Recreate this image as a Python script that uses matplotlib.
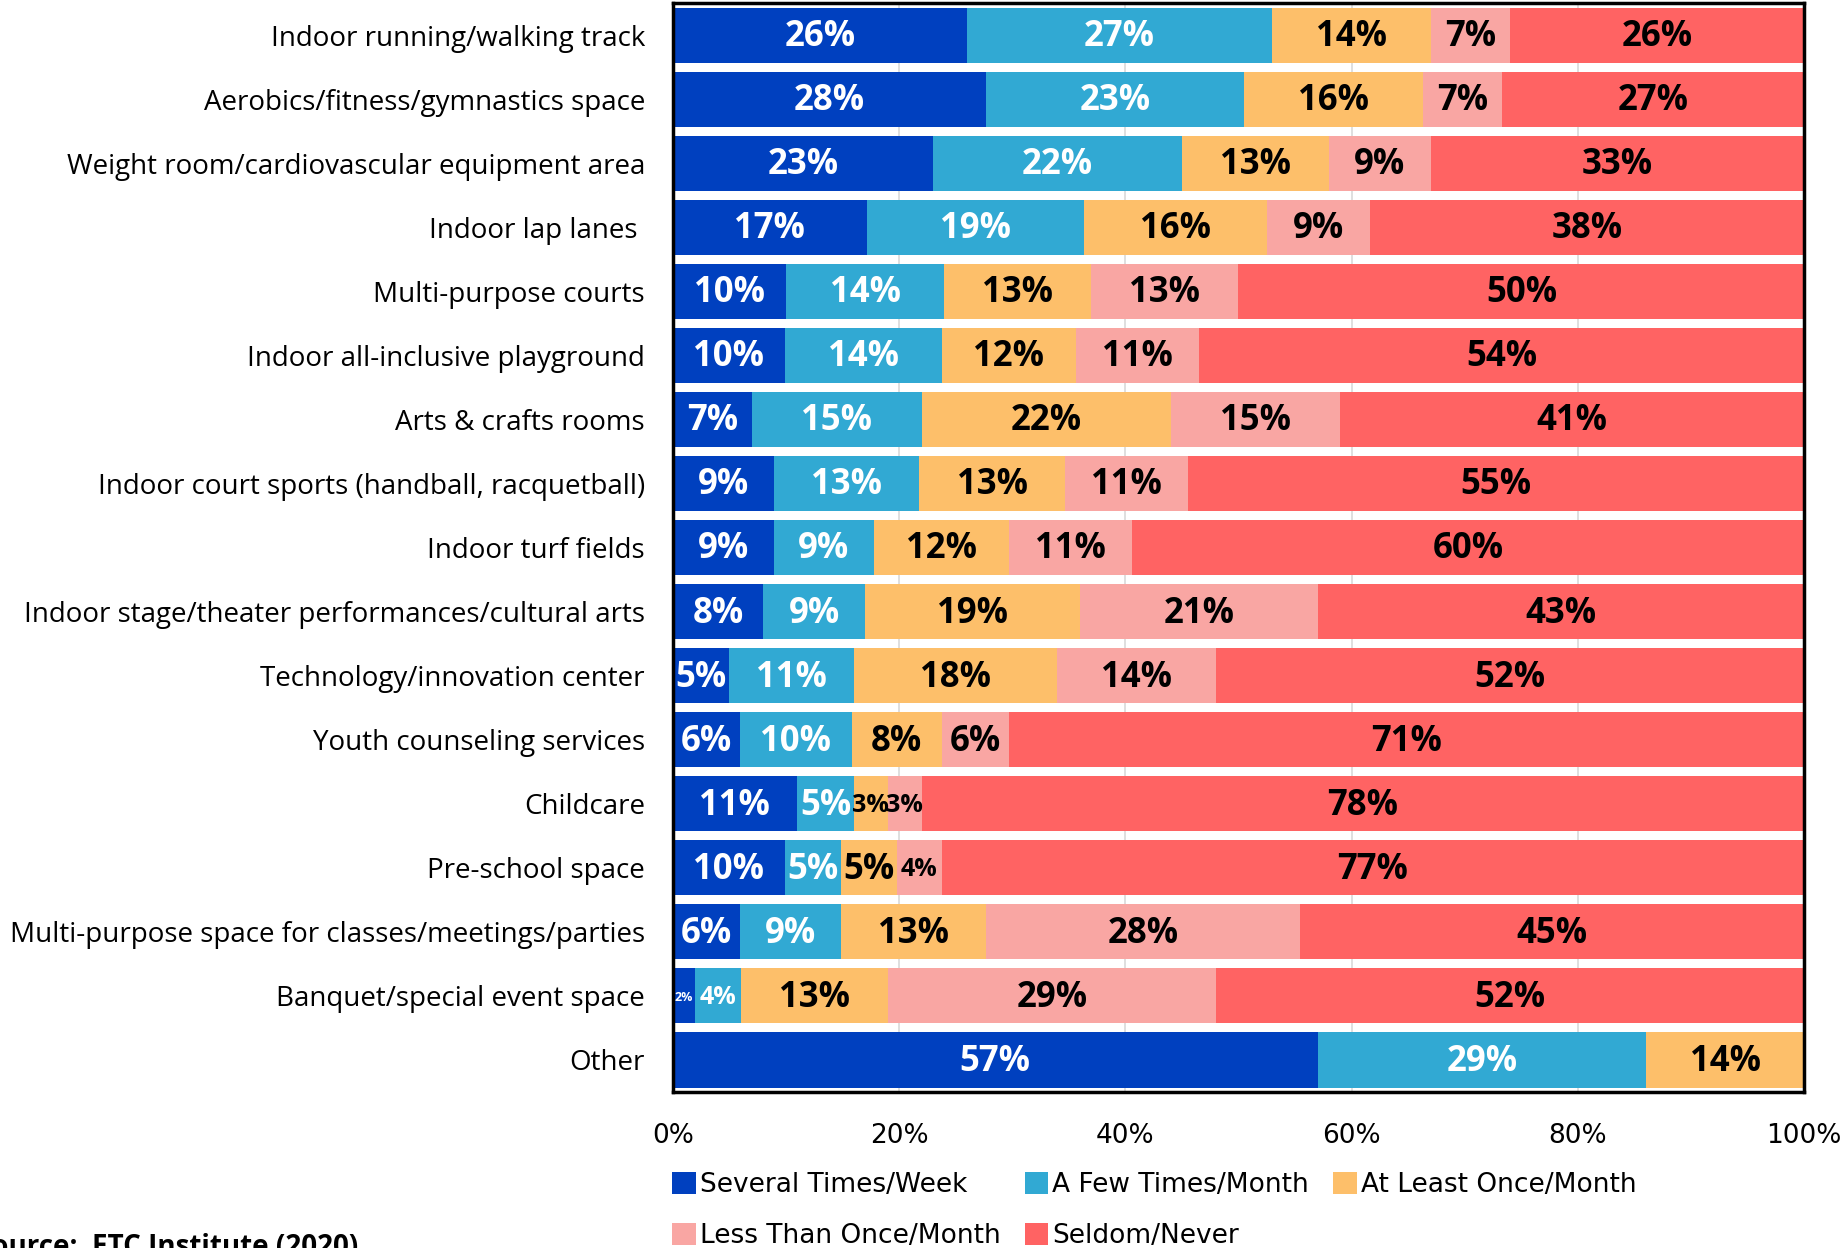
import matplotlib.pyplot as plt
import numpy as np

# data (top to bottom)
facilities = ['Indoor running/walking track', 'Aerobics/fitness/gymnastics space',
              'Weight room/cardiovascular equipment area', 'Indoor lap lanes ',
              'Multi-purpose courts', 'Indoor all-inclusive playground', 'Arts & crafts rooms',
              'Indoor court sports (handball, racquetball)', 'Indoor turf fields',
              'Indoor stage/theater performances/cultural arts', 'Technology/innovation center',
              'Youth counseling services', 'Childcare', 'Pre-school space',
              'Multi-purpose space for classes/meetings/parties', 'Banquet/special event space',
              'Other']
several = [26, 28, 23, 17, 10, 10, 7, 9, 9, 8, 5, 6, 11, 10, 6, 2, 57]
few = [27, 23, 22, 19, 14, 14, 15, 13, 9, 9, 11, 10, 5, 5, 9, 4, 29]
once = [14, 16, 13, 16, 13, 12, 22, 13, 12, 19, 18, 8, 3, 5, 13, 13, 14]
less = [7, 7, 9, 9, 13, 11, 15, 11, 11, 21, 14, 6, 3, 4, 28, 29, 0]
seldom = [26, 27, 33, 38, 50, 54, 41, 55, 60, 43, 52, 71, 78, 77, 45, 52, 0]

series_names = ['Several Times/Week', 'A Few Times/Month', 'At Least Once/Month',
                'Less Than Once/Month', 'Seldom/Never']
colors = ['#0040BF', '#31A9D3', '#FDBF6A', '#F9A6A3', '#FF6363']
text_colors = ['white', 'white', 'black', 'black', 'black']

data = np.array([several, few, once, less, seldom], dtype=float)
shares = data / data.sum(axis=0) * 100  # chart is 100% stacked

fig = plt.figure(figsize=(18.43, 12.48), dpi=100)
ax = fig.add_axes([0.365, 0.125, 0.614, 0.8725])

y = np.arange(len(facilities))
left = np.zeros(len(facilities))
bars = []
for i in range(5):
    b = ax.barh(y, shares[i], left=left, height=0.86, color=colors[i], zorder=2,
                label=series_names[i])
    bars.append(b)
    for j in range(len(facilities)):
        v = data[i, j]
        if v <= 0:
            continue
        size = 25
        if v <= 2:
            size = 9
        elif v <= 4:
            size = 18
        ax.text(left[j] + shares[i, j] / 2, y[j] + 0.03, f'{int(v)}%', ha='center',
                va='center', color=text_colors[i], fontsize=size, fontweight='bold',
                family='Open Sans', zorder=3)
    left += shares[i]

ax.set_xlim(0, 100)
ax.set_ylim(len(facilities) - 0.5, -0.5)
ax.set_yticks(y)
ax.set_yticklabels(facilities, fontsize=20, family='Open Sans')
ax.set_xticks([0, 20, 40, 60, 80, 100])
ax.set_xticklabels(['0%', '20%', '40%', '60%', '80%', '100%'], fontsize=19,
                   family=['Liberation Sans Narrow', 'DejaVu Sans'])
ax.tick_params(axis='both', length=0)
ax.tick_params(axis='y', pad=20)
ax.tick_params(axis='x', pad=22)
ax.grid(axis='x', color='#D9D9D9', linewidth=1.2, zorder=0)
ax.set_axisbelow(True)
for s in ax.spines.values():
    s.set_linewidth(2.5)
    s.set_color('black')

# legend laid out row by row like the original
order = [0, 3, 1, 4, 2]
leg = fig.legend([bars[k] for k in order], [series_names[k] for k in order],
                 ncol=3, loc='upper left', bbox_to_anchor=(0.352, 0.08),
                 frameon=False, handlelength=0.9, handleheight=0.9, handletextpad=0.15,
                 columnspacing=0.9, labelspacing=0.95,
                 prop={'family': ['Liberation Sans Narrow', 'DejaVu Sans'], 'size': 19})

fig.text(-0.013, 0.012, 'Source:  ETC Institute (2020)', fontsize=20, fontweight='bold',
         family='Open Sans', va='top', ha='left')

fig.savefig('out.png', dpi=100)
